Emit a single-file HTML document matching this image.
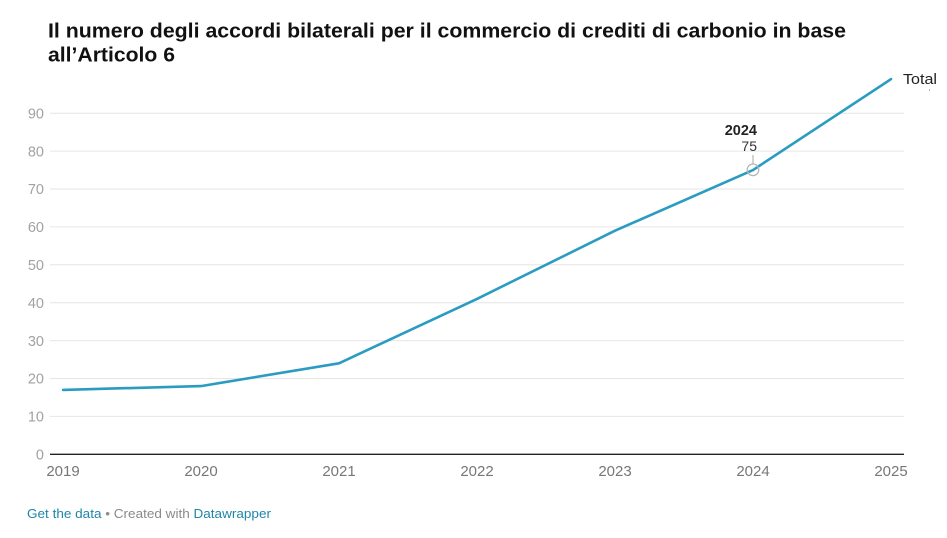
<!DOCTYPE html>
<html>
<head>
<meta charset="utf-8">
<style>
html,body{margin:0;padding:0;background:#fff;}
svg{display:block;}
text{font-family:"Liberation Sans",Arial,sans-serif;}
</style>
</head>
<body>
<svg width="947" height="538" viewBox="0 0 947 538" xmlns="http://www.w3.org/2000/svg">
<rect width="947" height="538" fill="#fff"/>
<!-- Title -->
<text x="48" y="37.5" font-size="20" font-weight="bold" fill="#111" textLength="798" lengthAdjust="spacingAndGlyphs">Il numero degli accordi bilaterali per il commercio di crediti di carbonio in base</text>
<text x="48" y="61.5" font-size="20" font-weight="bold" fill="#111" textLength="127" lengthAdjust="spacingAndGlyphs">all’Articolo 6</text>

<!-- Gridlines -->
<g stroke="#e6e6e6" stroke-width="1">
<line x1="50" x2="904" y1="416.4" y2="416.4"/>
<line x1="50" x2="904" y1="378.5" y2="378.5"/>
<line x1="50" x2="904" y1="340.6" y2="340.6"/>
<line x1="50" x2="904" y1="302.7" y2="302.7"/>
<line x1="50" x2="904" y1="264.8" y2="264.8"/>
<line x1="50" x2="904" y1="226.9" y2="226.9"/>
<line x1="50" x2="904" y1="189" y2="189"/>
<line x1="50" x2="904" y1="151.1" y2="151.1"/>
<line x1="50" x2="904" y1="113.2" y2="113.2"/>
</g>
<line x1="50" x2="904" y1="454.3" y2="454.3" stroke="#222" stroke-width="1.3"/>

<!-- Y labels -->
<g font-size="14.5" fill="#a2a2a2" text-anchor="end">
<text x="44" y="459.5">0</text>
<text x="44" y="421.6">10</text>
<text x="44" y="383.7">20</text>
<text x="44" y="345.8">30</text>
<text x="44" y="307.9">40</text>
<text x="44" y="270">50</text>
<text x="44" y="232.1">60</text>
<text x="44" y="194.2">70</text>
<text x="44" y="156.3">80</text>
<text x="44" y="118.4">90</text>
</g>

<!-- X labels -->
<g font-size="15" fill="#777" text-anchor="middle">
<text x="63" y="476">2019</text>
<text x="201" y="476">2020</text>
<text x="339" y="476">2021</text>
<text x="477" y="476">2022</text>
<text x="615" y="476">2023</text>
<text x="753" y="476">2024</text>
<text x="891" y="476">2025</text>
</g>

<!-- Series line -->
<polyline fill="none" stroke="#2a9cc1" stroke-width="2.6" stroke-linejoin="round" stroke-linecap="round"
points="63,389.9 201,386.1 339,363.3 477,298.9 615,230.7 753,170.05 891,79.1"/>

<!-- Annotation -->
<line x1="753" x2="753" y1="155" y2="163.5" stroke="#aaa" stroke-width="1"/>
<circle cx="753" cy="169.8" r="5.8" fill="none" stroke="#b5b5b5" stroke-width="1.2"/>
<text x="757" y="135" font-size="14.5" font-weight="bold" fill="#222" text-anchor="end">2024</text>
<text x="757" y="151" font-size="14" fill="#333" text-anchor="end">75</text>

<!-- Total label -->
<text x="903" y="84" font-size="14.5" fill="#222" textLength="34" lengthAdjust="spacingAndGlyphs">Total</text>
<line x1="929.5" x2="929.5" y1="89" y2="91" stroke="#bbb" stroke-width="1"/>

<!-- Footer -->
<text x="27" y="518" font-size="13" textLength="244" lengthAdjust="spacingAndGlyphs"><tspan fill="#1f86a8">Get the data</tspan><tspan fill="#8a8a8a"> • Created with </tspan><tspan fill="#1f86a8">Datawrapper</tspan></text>
</svg>
</body>
</html>
